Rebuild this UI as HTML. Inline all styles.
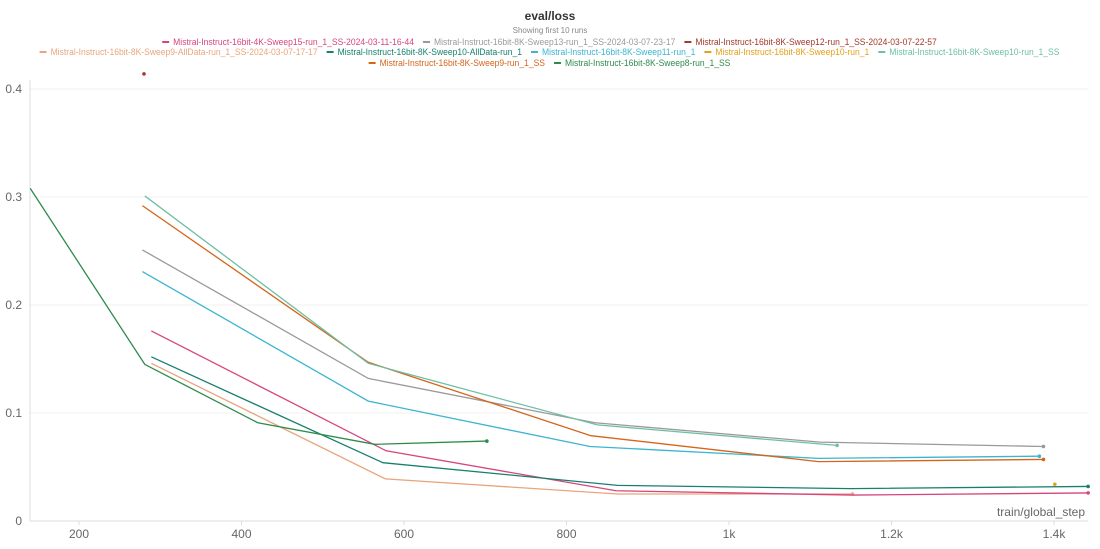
<!DOCTYPE html>
<html><head><meta charset="utf-8"><style>
body{margin:0;background:#fff;font-family:"Liberation Sans",sans-serif}
svg{display:block}
</style></head><body>
<svg id="chart" width="1100" height="549">
<text x="550" y="20" text-anchor="middle" font-size="12" font-weight="bold" fill="#333">eval/loss</text>
<text x="550" y="33" text-anchor="middle" font-size="8" fill="#888">Showing first 10 runs</text>
<g id="legend"></g>
<g id="grid"></g>
<g id="axes"></g>
<g id="series"></g>
<text x="1085" y="516" text-anchor="end" font-size="12" fill="#666">train/global_step</text>
</svg>
<script>
const runNames=["Mistral-Instruct-16bit-4K-Sweep15-run_1_SS-2024-03-11-16-44","Mistral-Instruct-16bit-8K-Sweep13-run_1_SS-2024-03-07-23-17","Mistral-Instruct-16bit-8K-Sweep12-run_1_SS-2024-03-07-22-57","Mistral-Instruct-16bit-8K-Sweep9-AllData-run_1_SS-2024-03-07-17-17","Mistral-Instruct-16bit-8K-Sweep10-AllData-run_1","Mistral-Instruct-16bit-8K-Sweep11-run_1","Mistral-Instruct-16bit-8K-Sweep10-run_1","Mistral-Instruct-16bit-8K-Sweep10-run_1_SS","Mistral-Instruct-16bit-8K-Sweep9-run_1_SS","Mistral-Instruct-16bit-8K-Sweep8-run_1_SS"];
const runColors=["#d6457e","#9a9a9a","#a03a2c","#e8a57e","#17806d","#3bb5d0","#e4a01b","#6ebfa3","#d4651b","#2e8b4c"];
const stepsSweep15=[289,578,861,1152,1442];
const lossSweep15=[0.176,0.065,0.028,0.024,0.026];
const stepsSweep13=[278,556,835,1112,1387];
const lossSweep13=[0.251,0.132,0.091,0.073,0.069];
const stepsSweep12=[280];
const lossSweep12=[0.414];
const stepsSweep9All=[289,577,863,1152];
const lossSweep9All=[0.146,0.039,0.025,0.025];
const stepsSweep10All=[289,574,863,1149,1442];
const lossSweep10All=[0.152,0.054,0.033,0.030,0.032];
const stepsSweep11=[278,556,829,1110,1382];
const lossSweep11=[0.231,0.111,0.069,0.058,0.060];
const stepsSweep10=[1401];
const lossSweep10=[0.034];
const stepsSweep10SS=[281,556,838,1133];
const lossSweep10SS=[0.301,0.146,0.089,0.070];
const stepsSweep9SS=[278,556,830,1110,1387];
const lossSweep9SS=[0.292,0.147,0.079,0.055,0.057];
const stepsSweep8SS=[140,281,420,564,702];
const lossSweep8SS=[0.308,0.145,0.091,0.071,0.074];
const xTicks=[200,400,600,800,1000,1200,1400];
const xTickLabels=["200","400","600","800","1k","1.2k","1.4k"];
const yTicks=[0,0.1,0.2,0.3,0.4];
const yTickLabels=["0","0.1","0.2","0.3","0.4"];

const NS="http://www.w3.org/2000/svg";
const X=v=>79+(v-200)*0.8125;
const Y=v=>521-1080*v;
function mk(tag,attrs,parent){const e=document.createElementNS(NS,tag);for(const k in attrs)e.setAttribute(k,attrs[k]);parent.appendChild(e);return e;}
const grid=document.getElementById('grid'),axes=document.getElementById('axes'),ser=document.getElementById('series'),leg=document.getElementById('legend');
yTicks.forEach((t,i)=>{
  if(t>0){const g=mk('line',{x1:30,x2:1088,y1:Y(t),y2:Y(t),stroke:'#f0f0f0','stroke-width':1},grid);
  
  }
  const l=mk('text',{x:22,y:Y(t)+4,'text-anchor':'end','font-size':12,fill:'#666'},axes);l.textContent=yTickLabels[i];
  
  
});
xTicks.forEach((t,i)=>{
  const l=mk('text',{x:X(t),y:538,'text-anchor':'middle','font-size':12,fill:'#666'},axes);l.textContent=xTickLabels[i];
  
  
  const tk=mk('line',{x1:X(t),x2:X(t),y1:521,y2:525,stroke:'#ddd'},axes);
  
  
});
const xa=mk('line',{x1:30,x2:1088,y1:521,y2:521,stroke:'#ddd'},axes);


const ya=mk('line',{x1:30,x2:30,y1:80,y2:521,stroke:'#ddd'},axes);



const S=[[stepsSweep15,lossSweep15],[stepsSweep13,lossSweep13],[stepsSweep12,lossSweep12],[stepsSweep9All,lossSweep9All],[stepsSweep10All,lossSweep10All],[stepsSweep11,lossSweep11],[stepsSweep10,lossSweep10],[stepsSweep10SS,lossSweep10SS],[stepsSweep9SS,lossSweep9SS],[stepsSweep8SS,lossSweep8SS]];
const order=[3,0,4,9,5,1,8,7,2,6];
order.forEach(i=>{
  const [xs,ys]=S[i];
  if(xs.length>1){
    const p=mk('polyline',{points:xs.map((x,j)=>X(x)+','+Y(ys[j])).join(' '),fill:'none',stroke:runColors[i],'stroke-width':1.3},ser);
    
    
  }
  const n=xs.length-1;
  const c=mk('circle',{cx:X(xs[n]),cy:Y(ys[n]),r:1.8,fill:runColors[i]},ser);
  
  
});

// legend rows
const rows=[[0,1,2],[3,4,5,6,7],[8,9]];
const rowY=[45,55,66];
const ctx=document.createElement('canvas').getContext('2d');ctx.font='9.5px "Liberation Sans"';
rows.forEach((r,ri)=>{
  const tw=r.map(i=>ctx.measureText(runNames[i]).width*0.9);
  const widths=tw.map(w=>12+w);
  const total=widths.reduce((a,b)=>a+b,0)+(r.length-1)*8;
  let x=550-total/2;
  r.forEach((i,k)=>{
    const sw=mk('line',{x1:x,x2:x+7,y1:rowY[ri]-3,y2:rowY[ri]-3,stroke:runColors[i],'stroke-width':2},leg);
    
    
    const t=mk('text',{x:x+11,y:rowY[ri],'font-size':9.5,fill:runColors[i],textLength:tw[k],lengthAdjust:'spacingAndGlyphs'},leg);t.textContent=runNames[i];
    
    
    x+=widths[k]+8;
  });
});
</script>
</body></html>
